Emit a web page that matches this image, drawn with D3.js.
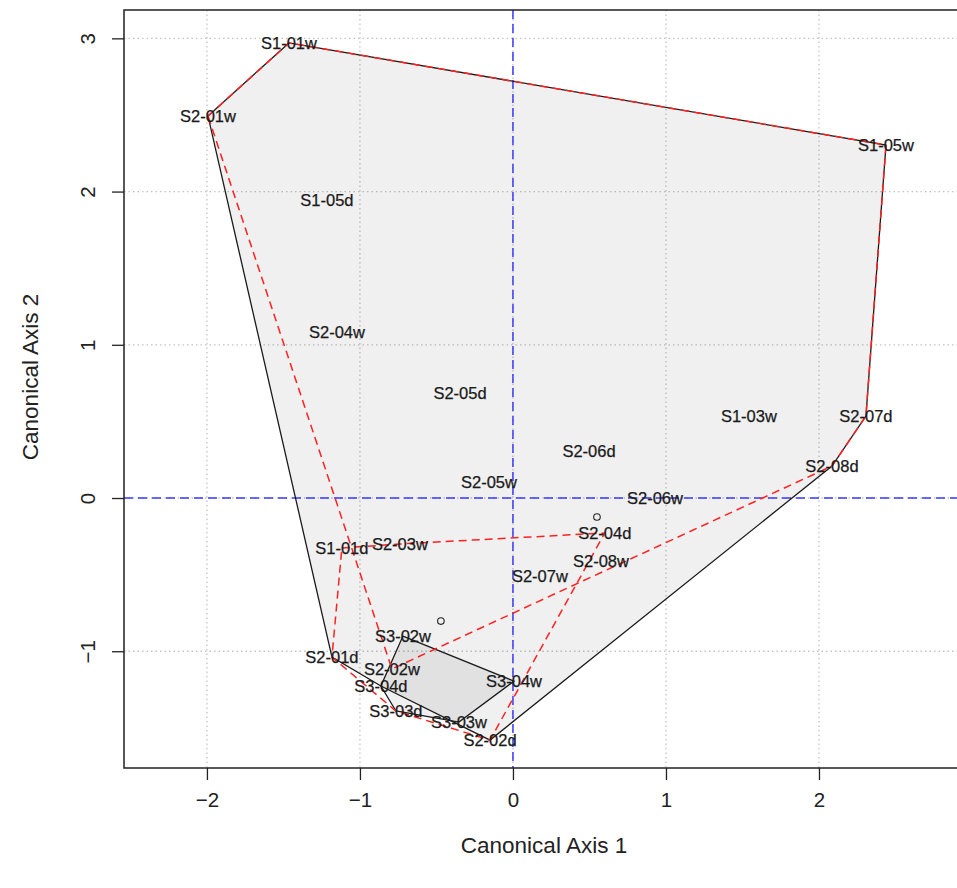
<!DOCTYPE html>
<html>
<head>
<meta charset="utf-8">
<script src="https://cdn.jsdelivr.net/npm/d3@7"></script>
<style>
  body { margin: 0; background: #fff; }
  text { font-family: "Liberation Sans", Arial, sans-serif; }
</style>
</head>
<body>
<svg id="chart" width="957" height="888"></svg>
<script>
// Site scores on the first two canonical axes
const sites = ["S1-01w","S2-01w","S1-05w","S2-07d","S2-08d","S2-02d","S3-04d","S2-01d",
               "S3-02w","S3-04w","S3-03w","S3-03d","S2-02w","S1-01d","S2-04d","S1-05d",
               "S2-04w","S2-05d","S2-06d","S2-05w","S2-06w","S1-03w","S2-07w","S2-08w","S2-03w"];
const axis1 = [-1.464,-1.993, 2.438, 2.307, 2.085,-0.150,-0.863,-1.183,
               -0.719, 0.007,-0.353,-0.765,-0.791,-1.118, 0.600,-1.216,
               -1.150,-0.346, 0.497,-0.157, 0.928, 1.542, 0.176, 0.575,-0.739];
const axis2 = [ 2.970, 2.493, 2.304, 0.535, 0.209,-1.580,-1.227,-1.038,
               -0.901,-1.195,-1.462,-1.390,-1.116,-0.326,-0.228, 1.945,
                1.084, 0.685, 0.307, 0.104, 0.000, 0.535,-0.509,-0.411,-0.300];

// Unlabelled points
const extraX = [-0.471, 0.549];
const extraY = [-0.803,-0.124];

// Group hulls (vertex order by site name)
const hullGrey = ["S2-01w","S1-01w","S1-05w","S2-07d","S2-08d","S2-02d","S3-04d","S2-01d"];
const hullS3   = ["S3-02w","S3-04w","S3-03w","S3-03d","S3-04d"];
const hullRedA = ["S2-01w","S1-01w","S1-05w","S2-07d","S2-08d","S2-02w"];
const hullRedB = ["S1-01d","S2-03w","S2-04d","S2-02d","S3-03d","S2-01d"];

const xTicks = [-2,-1,0,1,2];
const yTicks = [-1,0,1,2,3];
const xTitle = "Canonical Axis 1";
const yTitle = "Canonical Axis 2";

const plot = { left: 124, right: 970, top: 10, bottom: 768 };

const x = d3.scaleLinear().domain([-2.542, 2.987]).range([plot.left, plot.right]);
const y = d3.scaleLinear().domain([-1.762, 3.185]).range([plot.bottom, plot.top]);

const svg = d3.select("#chart");
const pos = {};
sites.forEach((s, i) => { pos[s] = [x(axis1[i]), y(axis2[i])]; });

svg.append("defs").append("clipPath").attr("id", "plotclip")
  .append("rect").attr("x", plot.left).attr("y", plot.top)
  .attr("width", plot.right - plot.left).attr("height", plot.bottom - plot.top);

const g = svg.append("g").attr("clip-path", "url(#plotclip)");

// dotted grid at the tick positions
g.selectAll("line.gx").data(xTicks).join("line")
  .attr("x1", d => x(d)).attr("x2", d => x(d))
  .attr("y1", plot.top).attr("y2", plot.bottom)
  .attr("stroke", "#c4c4c4").attr("stroke-width", 1.3).attr("stroke-dasharray", "1.5,3");
g.selectAll("line.gy").data(yTicks).join("line")
  .attr("y1", d => y(d)).attr("y2", d => y(d))
  .attr("x1", plot.left).attr("x2", plot.right)
  .attr("stroke", "#c4c4c4").attr("stroke-width", 1.3).attr("stroke-dasharray", "1.5,3");

const line = d3.line().curve(d3.curveLinearClosed);
const pts = names => names.map(n => pos[n]);

// translucent hull fills
[hullGrey, hullS3].forEach(h => {
  g.append("path").attr("d", line(pts(h)))
    .attr("fill", "#000").attr("fill-opacity", 0.06).attr("stroke", "none");
});

// origin reference lines
g.append("line").attr("x1", x(0)).attr("x2", x(0)).attr("y1", plot.top).attr("y2", plot.bottom)
  .attr("stroke", "#3a3aff").attr("stroke-width", 1.5).attr("stroke-dasharray", "9,5");
g.append("line").attr("y1", y(0)).attr("y2", y(0)).attr("x1", plot.left).attr("x2", plot.right)
  .attr("stroke", "#3a3aff").attr("stroke-width", 1.5).attr("stroke-dasharray", "9,5");

// hull outlines
[hullGrey, hullS3].forEach(h => {
  g.append("path").attr("d", line(pts(h)))
    .attr("fill", "none").attr("stroke", "#1a1a1a").attr("stroke-width", 1.3);
});
[hullRedA, hullRedB].forEach(h => {
  g.append("path").attr("d", line(pts(h)))
    .attr("fill", "none").attr("stroke", "#ff2020").attr("stroke-width", 1.5)
    .attr("stroke-dasharray", "8,5");
});

// unlabelled points
g.selectAll("circle.extra").data(extraX).join("circle")
  .attr("cx", d => x(d)).attr("cy", (d, i) => y(extraY[i]))
  .attr("r", 3.3).attr("fill", "none").attr("stroke", "#222").attr("stroke-width", 1.1);

// site labels
g.selectAll("text.site").data(sites).join("text")
  .attr("x", (d, i) => x(axis1[i])).attr("y", (d, i) => y(axis2[i]))
  .attr("text-anchor", "middle").attr("dy", "0.36em")
  .attr("font-size", 16.5).attr("fill", "#1a1a1a")
  .attr("stroke", "#1a1a1a").attr("stroke-width", 0.25)
  .text(d => d);

// plot frame
svg.append("rect").attr("x", plot.left).attr("y", plot.top)
  .attr("width", plot.right - plot.left).attr("height", plot.bottom - plot.top)
  .attr("fill", "none").attr("stroke", "#222").attr("stroke-width", 1.5);

// axes
const ax = svg.append("g").attr("transform", `translate(0,${plot.bottom})`)
  .call(d3.axisBottom(x).tickValues(xTicks).tickSize(12).tickFormat(d3.format("d")));
ax.select(".domain").remove();
ax.selectAll(".tick line").attr("stroke", "#222").attr("stroke-width", 1.3);
ax.selectAll(".tick text")
  .attr("y", 39).attr("dy", null)
  .attr("font-size", 20.5).attr("fill", "#222").attr("font-family", null);

const ay = svg.append("g").attr("transform", `translate(${plot.left},0)`)
  .call(d3.axisLeft(y).tickValues(yTicks).tickSize(12).tickFormat(d3.format("d")));
ay.select(".domain").remove();
ay.selectAll(".tick line").attr("stroke", "#222").attr("stroke-width", 1.3);
ay.selectAll(".tick text")
  .attr("x", null).attr("dy", null)
  .attr("text-anchor", "middle")
  .attr("transform", "translate(-29,0) rotate(-90)")
  .attr("font-size", 20.5).attr("fill", "#222").attr("font-family", null);

// axis titles
svg.append("text")
  .attr("x", (plot.left + plot.right) / 2 - 3).attr("y", 853)
  .attr("text-anchor", "middle").attr("font-size", 22.5).attr("fill", "#222")
  .text(xTitle);
svg.append("text")
  .attr("transform", "translate(38,377) rotate(-90)")
  .attr("text-anchor", "middle").attr("font-size", 22.5).attr("fill", "#222")
  .text(yTitle);
</script>
</body>
</html>
